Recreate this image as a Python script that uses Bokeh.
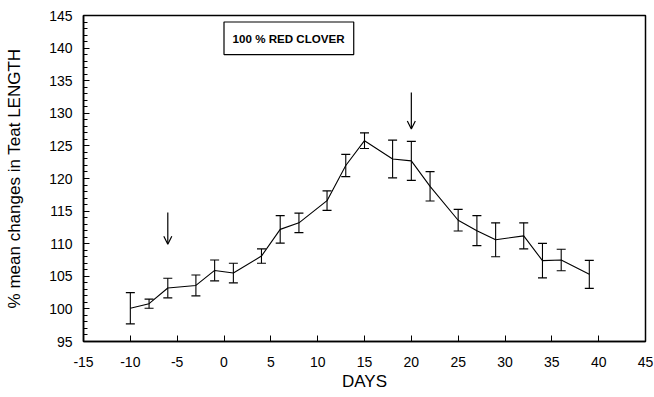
from bokeh.plotting import figure
from bokeh.models import (ColumnDataSource, Whisker, TeeHead, Arrow, OpenHead,
                          BoxAnnotation, Label, SingleIntervalTicker, Range1d,
                          PrintfTickFormatter)
from bokeh.embed import file_html
from bokeh.resources import INLINE

# data
days = [-10, -8, -6, -3, -1, 1, 4, 6, 8, 11, 13, 15, 18, 20, 22, 25, 27, 29, 32, 34, 36, 39]
mean_change = [100.1, 100.8, 103.2, 103.6, 105.9, 105.5, 108.1, 112.2, 113.2, 116.6, 122.0,
               125.8, 123.0, 122.7, 118.8, 113.6, 112.0, 110.6, 111.2, 107.4, 107.5, 105.3]
sem = [2.4, 0.7, 1.5, 1.6, 1.6, 1.5, 1.1, 2.1, 1.5, 1.5, 1.7,
       1.2, 2.9, 3.0, 2.25, 1.65, 2.3, 2.6, 2.0, 2.65, 1.65, 2.15]
arrow_days = [-6, 20]
arrow_top = [114.8, 133.2]
arrow_tip = [109.9, 127.6]
legend_text = "100 % RED CLOVER"

upper = [m + s for m, s in zip(mean_change, sem)]
lower = [m - s for m, s in zip(mean_change, sem)]
src = ColumnDataSource(dict(x=days, y=mean_change, upper=upper, lower=lower))

FONT = "Liberation Sans"

p = figure(width=654, height=397, output_backend="svg", toolbar_location=None,
           x_range=Range1d(-15, 45), y_range=Range1d(95, 145),
           min_border_left=83, min_border_right=9, min_border_top=15, min_border_bottom=56)
p.background_fill_color = "white"
p.border_fill_color = "white"
p.xgrid.visible = False
p.ygrid.visible = False
p.outline_line_color = "black"
p.outline_line_width = 1.5
p.outline_line_alpha = 1

p.xaxis.ticker = SingleIntervalTicker(interval=5, num_minor_ticks=0)
p.yaxis.ticker = SingleIntervalTicker(interval=5, num_minor_ticks=5)
p.xaxis.formatter = PrintfTickFormatter(format="%d")
p.yaxis.formatter = PrintfTickFormatter(format="%d")

for ax in (p.xaxis[0], p.yaxis[0]):
    ax.axis_line_color = "black"
    ax.axis_line_width = 1.5
    ax.major_tick_in = 6
    ax.major_tick_out = 0
    ax.minor_tick_in = 4
    ax.minor_tick_out = 0
    ax.major_tick_line_color = "black"
    ax.minor_tick_line_color = "black"
    ax.major_label_text_font = FONT
    ax.major_label_text_font_size = "14px"
    ax.major_label_text_color = "black"
    ax.axis_label_text_font = FONT
    ax.axis_label_text_font_size = "17px"
    ax.axis_label_text_font_style = "normal"
    ax.axis_label_text_color = "black"

p.xaxis.minor_tick_line_color = None
p.xaxis.major_label_standoff = 15
p.yaxis.major_label_standoff = 11
p.xaxis.axis_label = "DAYS"
p.yaxis.axis_label = "% mean changes in Teat LENGTH"
p.xaxis.axis_label_standoff = 2
p.yaxis.axis_label_standoff = 22

p.line("x", "y", source=src, line_color="black", line_width=1.1)
p.add_layout(Whisker(source=src, base="x", upper="upper", lower="lower",
                     line_color="black", line_width=1.1,
                     upper_head=TeeHead(size=9, line_color="black", line_width=1.2),
                     lower_head=TeeHead(size=9, line_color="black", line_width=1.2)))

for xd, yt, yb in zip(arrow_days, arrow_top, arrow_tip):
    p.add_layout(Arrow(x_start=xd, y_start=yt, x_end=xd, y_end=yb,
                       line_color="black", line_width=1.2,
                       end=OpenHead(size=8, line_color="black", line_width=1.2)))

p.add_layout(BoxAnnotation(left=0, right=13.85, bottom=139.0, top=144.0,
                           fill_alpha=0, line_color="black", line_width=1.2, line_alpha=1))
p.add_layout(Label(x=6.9, y=141.5, text=legend_text, text_font=FONT,
                   text_font_size="11.6px", text_font_style="bold",
                   text_align="center", text_baseline="middle", text_color="black"))

open("out.html", "w").write(file_html(p, INLINE))
